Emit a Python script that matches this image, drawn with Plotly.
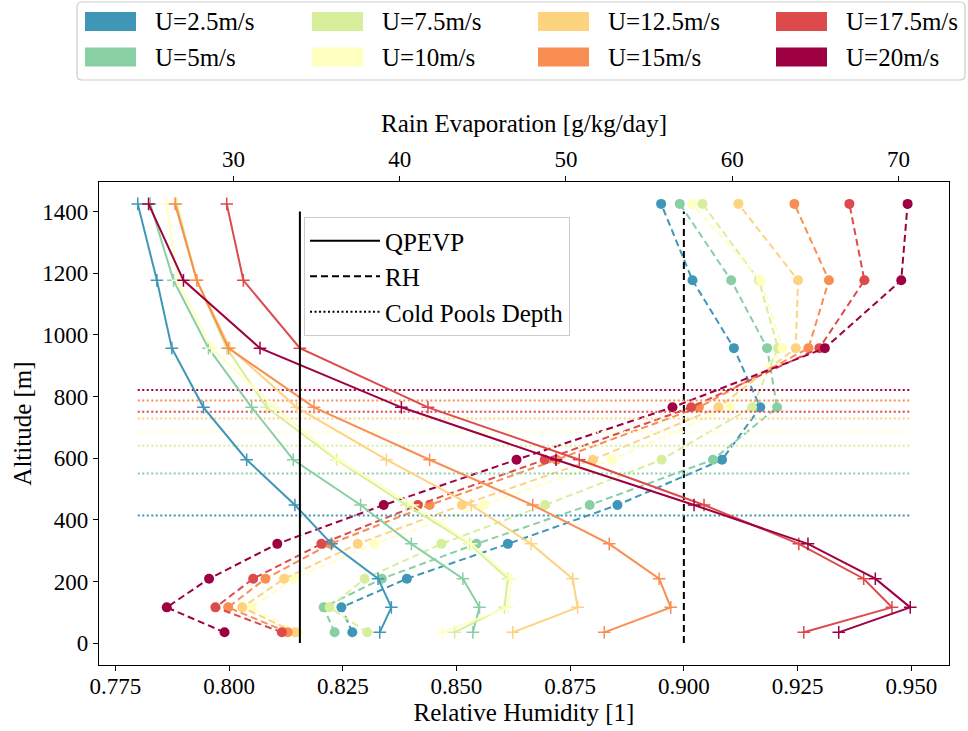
import plotly.graph_objects as go

# ---------------- data ----------------
altitude = [35, 116, 209, 322, 448, 595, 765, 957, 1177, 1425]

wind_labels = ["U=2.5m/s", "U=5m/s", "U=7.5m/s", "U=10m/s",
               "U=12.5m/s", "U=15m/s", "U=17.5m/s", "U=20m/s"]
colors = ["#3f96b7", "#88cfa4", "#d7ef9b", "#ffffbf",
          "#fed380", "#f98e52", "#dd4a4c", "#9e0142"]

# rain evaporation [g/kg/day] (top axis), bottom -> top
qpevp_2p5 = [38.8, 39.5, 38.7, 35.9, 33.7, 30.8, 28.2, 26.3, 25.4, 24.25]
qpevp_5 = [44.4, 44.8, 43.8, 40.7, 37.65, 33.6, 31.1, 28.5, 26.4, 25.0]
qpevp_7p5 = [43.3, 46.3, 46.5, 44.2, 40.4, 36.2, 32.0, 29.6, 27.8, 26.6]
qpevp_10 = [42.55, 46.5, 46.7, 44.3, 40.8, 36.3, 32.5, 28.7, 26.65, 26.0]
qpevp_12p5 = [46.8, 50.7, 50.4, 47.9, 44.3, 39.2, 33.8, 29.8, 27.8, 26.5]
qpevp_15 = [52.3, 56.3, 55.6, 52.6, 48.0, 41.8, 34.85, 29.7, 27.8, 26.5]
qpevp_17p5 = [64.3, 69.6, 67.9, 64.0, 58.3, 50.8, 41.7, 34.0, 30.6, 29.6]
qpevp_20 = [66.4, 70.7, 68.6, 64.55, 57.7, 49.4, 40.1, 31.6, 27.0, 24.9]

# relative humidity [1] (bottom axis), bottom -> top
rh_2p5 = [0.8271, 0.8247, 0.8391, 0.8613, 0.8854, 0.9084, 0.9168, 0.9110, 0.9019, 0.8950]
rh_5 = [0.8232, 0.8208, 0.8336, 0.8544, 0.8793, 0.9064, 0.9205, 0.9183, 0.9104, 0.8991]
rh_7p5 = [0.8304, 0.8221, 0.8298, 0.8467, 0.8695, 0.8951, 0.9150, 0.9207, 0.9165, 0.9041]
rh_10 = [0.8152, 0.8049, 0.8142, 0.8320, 0.8560, 0.8842, 0.9102, 0.9217, 0.9169, 0.9018]
rh_12p5 = [0.8145, 0.8029, 0.8121, 0.8283, 0.8512, 0.8800, 0.9076, 0.9246, 0.9251, 0.9120]
rh_15 = [0.8129, 0.7998, 0.8080, 0.8223, 0.8441, 0.8720, 0.9033, 0.9274, 0.9319, 0.9243]
rh_17p5 = [0.8116, 0.7970, 0.8053, 0.8203, 0.8415, 0.8694, 0.9016, 0.9298, 0.9397, 0.9364]
rh_20 = [0.7990, 0.7863, 0.7956, 0.8106, 0.8340, 0.8632, 0.8975, 0.9310, 0.9478, 0.9492]

cold_pool_depth = [414, 550, 640, 685, 729, 787, 751, 821]

qpevp_ref = 34.0   # solid vertical reference (top axis)
rh_ref = 0.900     # dashed vertical reference (bottom axis)
ref_bottom, ref_top = 0, 1400

rh_ticks = [0.775, 0.800, 0.825, 0.850, 0.875, 0.900, 0.925, 0.950]
qpevp_ticks = [30, 40, 50, 60, 70]
alt_ticks = [0, 200, 400, 600, 800, 1000, 1200, 1400]

qpevp_all = [qpevp_2p5, qpevp_5, qpevp_7p5, qpevp_10,
             qpevp_12p5, qpevp_15, qpevp_17p5, qpevp_20]
rh_all = [rh_2p5, rh_5, rh_7p5, rh_10, rh_12p5, rh_15, rh_17p5, rh_20]

# ---------------- figure ----------------
FONT = "Liberation Serif, Times New Roman, DejaVu Serif, serif"
W, H = 968, 731
L, R, T, B = 99, 949, 182, 665
DASH = "7px,4px"
DOT = "2px,2.5px"


def pxx(x):
    return (x - L) / (R - L)


def pxy(y):
    return (B - y) / (B - T)


fig = go.Figure()

# RH (dashed, circles) on bottom axis
for lab, col, rh in zip(wind_labels, colors, rh_all):
    fig.add_trace(go.Scatter(
        x=rh, y=altitude, xaxis="x", yaxis="y", mode="lines+markers",
        line=dict(color=col, width=2, dash=DASH),
        marker=dict(symbol="circle", size=10, color=col),
        name=lab, showlegend=False))

# vertical dashed RH reference
fig.add_trace(go.Scatter(
    x=[rh_ref, rh_ref], y=[ref_bottom, ref_top], xaxis="x", yaxis="y",
    mode="lines", line=dict(color="black", width=2, dash=DASH),
    showlegend=False, hoverinfo="skip"))

# cold pool depth lines (top axis, across QPEVP range)
qmin = min(min(q) for q in qpevp_all)
qmax = max(max(q) for q in qpevp_all)
for lab, col, d in zip(wind_labels, colors, cold_pool_depth):
    fig.add_trace(go.Scatter(
        x=[qmin, qmax], y=[d, d], xaxis="x2", yaxis="y", mode="lines",
        line=dict(color=col, width=2, dash=DOT),
        showlegend=False, hoverinfo="skip"))

# QPEVP (solid, plus markers) on top axis
for lab, col, q in zip(wind_labels, colors, qpevp_all):
    fig.add_trace(go.Scatter(
        x=q, y=altitude, xaxis="x2", yaxis="y", mode="lines+markers",
        line=dict(color=col, width=2),
        marker=dict(symbol="cross-thin", size=9,
                    line=dict(color=col, width=1.5)),
        name=lab, showlegend=False))

# vertical solid QPEVP reference
fig.add_trace(go.Scatter(
    x=[qpevp_ref, qpevp_ref], y=[ref_bottom, ref_top], xaxis="x2", yaxis="y",
    mode="lines", line=dict(color="black", width=2),
    showlegend=False, hoverinfo="skip"))

# legend entries for line styles
for nm, ds in [("QPEVP", "solid"), ("RH", DASH), ("Cold Pools Depth", DOT)]:
    fig.add_trace(go.Scatter(
        x=[None], y=[None], xaxis="x", yaxis="y", mode="lines",
        line=dict(color="black", width=2, dash=ds), name=nm, showlegend=True))

# ---------------- top patch legend (shapes + text) ----------------
shapes = []
annotations = []
bx0, bx1, by0, by1, rr = 77, 965, 2, 80, 5
path = (f"M{pxx(bx0 + rr)},{pxy(by0)} L{pxx(bx1 - rr)},{pxy(by0)} "
        f"Q{pxx(bx1)},{pxy(by0)} {pxx(bx1)},{pxy(by0 + rr)} "
        f"L{pxx(bx1)},{pxy(by1 - rr)} Q{pxx(bx1)},{pxy(by1)} {pxx(bx1 - rr)},{pxy(by1)} "
        f"L{pxx(bx0 + rr)},{pxy(by1)} Q{pxx(bx0)},{pxy(by1)} {pxx(bx0)},{pxy(by1 - rr)} "
        f"L{pxx(bx0)},{pxy(by0 + rr)} Q{pxx(bx0)},{pxy(by0)} {pxx(bx0 + rr)},{pxy(by0)} Z")
shapes.append(dict(type="path", xref="paper", yref="paper", path=path,
                   line=dict(color="#cccccc", width=1.2), fillcolor="white", layer="above"))

col_x = [85, 312, 538, 776]
row_y = [21.5, 57]
for i, (lab, col) in enumerate(zip(wind_labels, colors)):
    c = i // 2
    r = i % 2
    x0 = col_x[c]
    yc = row_y[r]
    shapes.append(dict(type="rect", xref="paper", yref="paper",
                       x0=pxx(x0), x1=pxx(x0 + 51), y0=pxy(yc - 9.5), y1=pxy(yc + 9.5),
                       fillcolor=col, line=dict(width=0), layer="above"))
    annotations.append(dict(xref="paper", yref="paper", x=pxx(x0 + 68), y=pxy(yc),
                            xanchor="left", yanchor="middle", text=lab, showarrow=False,
                            font=dict(family=FONT, size=25, color="black")))

fig.update_layout(
    width=W, height=H,
    margin=dict(l=L, r=W - R, t=T, b=H - B, autoexpand=False),
    paper_bgcolor="white", plot_bgcolor="white",
    font=dict(family=FONT, size=23, color="black"),
    shapes=shapes, annotations=annotations,
    xaxis=dict(range=[0.7714, 0.9583], tickvals=rh_ticks,
               ticktext=[f"{v:.3f}" for v in rh_ticks],
               ticks="outside", ticklen=5, tickwidth=1.2, tickcolor="black",
               ticklabelstandoff=-5,
               showline=True, linecolor="black", linewidth=1.3, mirror=False,
               showgrid=False, zeroline=False,
               title=dict(text="Relative Humidity [1]", font=dict(size=25), standoff=0),
               tickfont=dict(size=23)),
    xaxis2=dict(range=[21.92, 73.03], tickvals=qpevp_ticks, overlaying="x", side="top",
                anchor="y", ticks="outside", ticklen=5, tickwidth=1.2, tickcolor="black",
                showline=True, linecolor="black", linewidth=1.3,
                showgrid=False, zeroline=False,
                title=dict(text="Rain Evaporation [g/kg/day]", font=dict(size=25), standoff=6),
                tickfont=dict(size=23)),
    yaxis=dict(range=[-71, 1496], tickvals=alt_ticks, ticks="outside", ticklen=5,
               tickwidth=1.2, tickcolor="black",
               showline=True, linecolor="black", linewidth=1.3, mirror=True,
               showgrid=False, zeroline=False,
               title=dict(text="Altitude [m]", font=dict(size=25), standoff=3),
               tickfont=dict(size=23)),
    legend=dict(x=pxx(304), y=pxy(217), xanchor="left", yanchor="top",
                bgcolor="white", bordercolor="#cccccc", borderwidth=1,
                font=dict(family=FONT, size=25, color="black"),
                itemwidth=70, tracegroupgap=0),
    showlegend=True,
)

fig.write_html("out.html", config={"displayModeBar": False},
               post_script="document.body.style.margin='0px';")
